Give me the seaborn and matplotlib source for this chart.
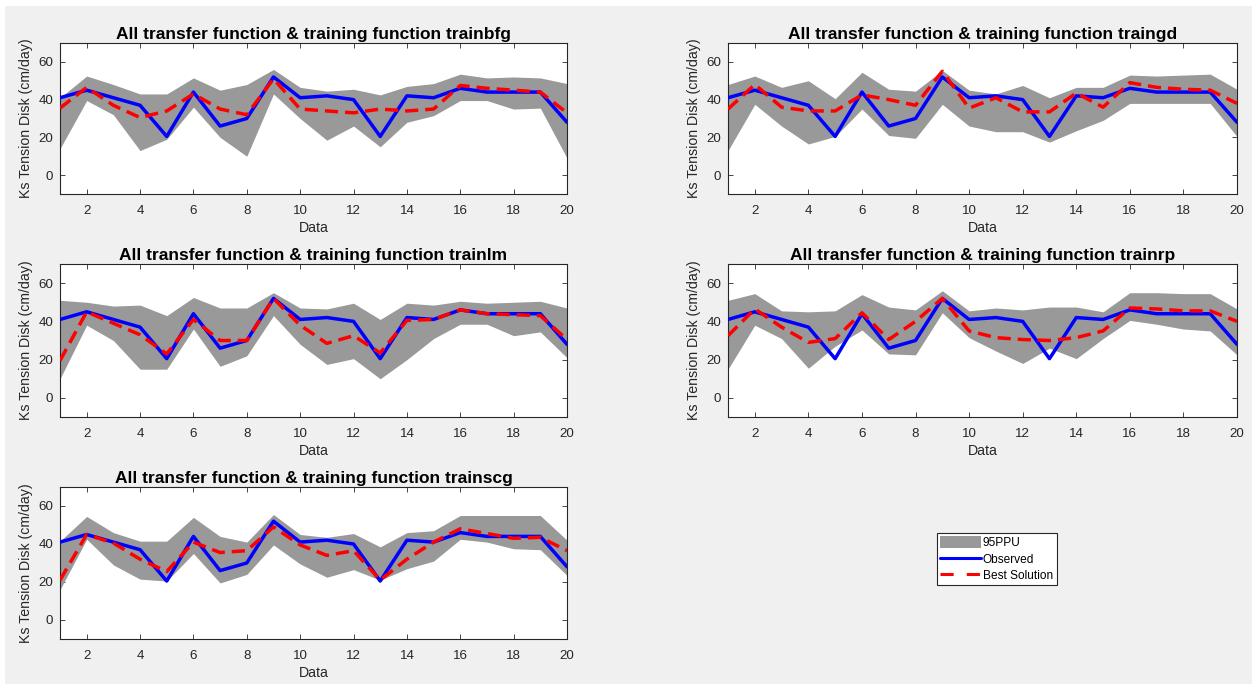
import numpy as np
import pandas as pd
import matplotlib
matplotlib.use("Agg")
import matplotlib.pyplot as plt
from matplotlib.patches import Patch, Rectangle
from matplotlib.lines import Line2D
import seaborn as sns

sns.set_theme(style="white")
plt.rcParams['font.family'] = ['Liberation Sans', 'DejaVu Sans']

data_idx = list(range(1, 21))
observed = [41, 45, 41, 37, 20.5, 44, 26, 30, 52, 41, 42, 40, 20.5, 42, 41, 46, 44, 44, 44, 28]

titles = ["trainbfg", "traingd", "trainlm", "trainrp", "trainscg"]

best_trainbfg = [35.5, 46.5, 37, 30.5, 34, 43, 35, 32, 51, 35, 34, 33, 35, 34, 35, 47.5, 46, 45, 44, 33]
upper_trainbfg = [41, 52.5, 48, 43, 43, 51.5, 45, 48, 56, 46.5, 44.5, 45.5, 42.5, 47, 48.5, 53.5, 51.5, 52, 51.5, 48.5]
lower_trainbfg = [14, 39.5, 32, 13, 19, 36, 20, 10, 43, 30, 18.5, 26, 15, 28, 31.5, 39.5, 39.5, 35, 35.5, 9]

best_traingd = [35, 48, 36, 34, 34, 42.5, 40, 37, 55, 35.5, 41, 33.5, 33.5, 43.5, 36, 49, 46.5, 45.5, 45, 38]
upper_traingd = [48, 52.5, 46.5, 50, 40.5, 54.5, 45.5, 44.5, 55.5, 45, 43, 47.5, 41, 46.5, 46.5, 53, 52.5, 53, 53.5, 45.5]
lower_traingd = [13, 37.5, 26, 16.5, 20.5, 35, 21, 19.5, 37.5, 26, 23, 23, 17.5, 23.5, 29, 38, 38, 38, 38, 20.5]

best_trainlm = [19.5, 45, 39, 33, 23, 41, 30, 30, 52, 38, 28.5, 32.5, 23.5, 40.5, 41, 46, 44, 43.5, 43, 30.5]
upper_trainlm = [51, 50, 48, 48.5, 43, 52.5, 47, 47, 55, 47, 46.5, 49.5, 41, 49.5, 48.5, 50.5, 49.5, 50, 50.5, 47]
lower_trainlm = [10, 38, 30, 15, 15, 36, 16.5, 22, 43, 28, 17.5, 20.5, 10, 20, 31, 38.5, 38.5, 32.5, 34.5, 21]

best_trainrp = [32.5, 46.5, 37, 29, 31, 44.5, 30.5, 40, 52, 35, 31.5, 30.5, 30, 31.5, 35, 47, 46.5, 45.5, 45.5, 40]
upper_trainrp = [51, 54.5, 45.5, 45, 45.5, 54, 47.5, 46, 56, 45.5, 47, 46, 47.5, 47.5, 45, 55, 55, 54.5, 54.5, 46.5]
lower_trainrp = [15, 38, 31, 15.5, 27, 35.5, 23, 22.5, 44.5, 31.5, 24.5, 18, 26, 20.5, 31, 40.5, 38.5, 36, 35, 22.5]

best_trainscg = [21, 45, 40.5, 32, 25.5, 41, 35.5, 36.5, 49, 39.5, 34, 36.5, 21, 32, 41, 48, 45.5, 43, 43.5, 36.5]
upper_trainscg = [41.5, 54.5, 46, 41.5, 41.5, 54, 44, 41, 55.5, 45, 43.5, 45.5, 38.5, 46, 47, 55, 55, 55, 55, 42]
lower_trainscg = [16, 42.5, 29, 21.5, 20.5, 35, 19.5, 24, 39.5, 29.5, 22.5, 26.5, 21, 27, 31, 42.5, 41, 37.5, 37, 23.5]

series = {
    "trainbfg": (best_trainbfg, upper_trainbfg, lower_trainbfg),
    "traingd": (best_traingd, upper_traingd, lower_traingd),
    "trainlm": (best_trainlm, upper_trainlm, lower_trainlm),
    "trainrp": (best_trainrp, upper_trainrp, lower_trainrp),
    "trainscg": (best_trainscg, upper_trainscg, lower_trainscg),
}

W, H = 1252, 684
fig = plt.figure(figsize=(W / 100, H / 100), dpi=100, facecolor="#f0f0f0")
# white border strip at top / left of screenshot
fig.patches.append(Rectangle((0, 1 - 6 / H), 1, 6 / H, transform=fig.transFigure,
                             facecolor="white", edgecolor="none", zorder=-10))
fig.patches.append(Rectangle((0, 0), 5 / W, 1, transform=fig.transFigure,
                             facecolor="white", edgecolor="none", zorder=-10))

# pixel boxes: left, right, top, bottom
boxes = [(60, 567, 43, 194), (728, 1237, 43, 194),
         (60, 567, 264, 417), (728, 1237, 264, 417),
         (60, 567, 487, 639)]

grey = "#999999"
blue = "#0000ff"
red = "#ff0000"
axcol = "#262626"
txtcol = "#262626"

for name, (l, r, t, b) in zip(titles, boxes):
    ax = fig.add_axes([l / W, 1 - b / H, (r - l) / W, (b - t) / H])
    best, up, lo = series[name]
    df = pd.DataFrame({"Data": data_idx, "obs": observed, "best": best, "up": up, "lo": lo})
    ax.fill_between(df["Data"], df["lo"], df["up"], color=grey, linewidth=0, zorder=1)
    sns.lineplot(data=df, x="Data", y="obs", ax=ax, color=blue, linewidth=2.5, zorder=3)
    sns.lineplot(data=df, x="Data", y="best", ax=ax, color=red, linewidth=2.5, zorder=4)
    ax.lines[-1].set_dashes([3.8, 2.0])
    ax.set_xlim(1, 20)
    ax.set_ylim(-10, 70)
    ax.set_xticks(range(2, 21, 2))
    ax.set_yticks([0, 20, 40, 60])
    ax.set_facecolor("white")
    for s in ax.spines.values():
        s.set_color(axcol)
        s.set_linewidth(0.8)
        s.set_visible(True)
    ax.tick_params(direction="in", length=3.6, width=0.6, colors=axcol, labelcolor=txtcol,
                   labelsize=9.6, top=True, right=True, bottom=True, left=True)
    ax.tick_params(axis="x", pad=8)
    ax.tick_params(axis="y", pad=5)
    ax.set_xlabel("Data", fontsize=10.2, color=txtcol, labelpad=2.5)
    ax.set_ylabel("Ks Tension Disk (cm/day)", fontsize=10.2, color=txtcol, labelpad=4)
    ax.set_title("All transfer function & training function " + name, fontsize=12.5,
                 fontweight="bold", color="black", pad=3)

handles = [Patch(facecolor=grey, edgecolor="none", label="95PPU"),
           Line2D([0], [0], color=blue, linewidth=2.2, label="Observed"),
           Line2D([0], [0], color=red, linewidth=2.2, dashes=[4.3, 4.3], label="Best Solution")]
lx0, lx1, ly0, ly1 = 937, 1057, 533, 585
leg = fig.legend(handles=handles, loc="lower left",
                 bbox_to_anchor=(lx0 / W, 1 - ly1 / H, (lx1 - lx0) / W, (ly1 - ly0) / H),
                 mode="expand", fontsize=8.6, frameon=True, fancybox=False,
                 edgecolor="#262626", framealpha=1, borderpad=0.25, labelspacing=0.3,
                 handlelength=3.4, handleheight=1.1, handletextpad=0.2, borderaxespad=0)
leg.get_frame().set_linewidth(0.8)
for txt in leg.get_texts():
    txt.set_color("black")

fig.savefig("out.png", dpi=100, facecolor=fig.get_facecolor())
